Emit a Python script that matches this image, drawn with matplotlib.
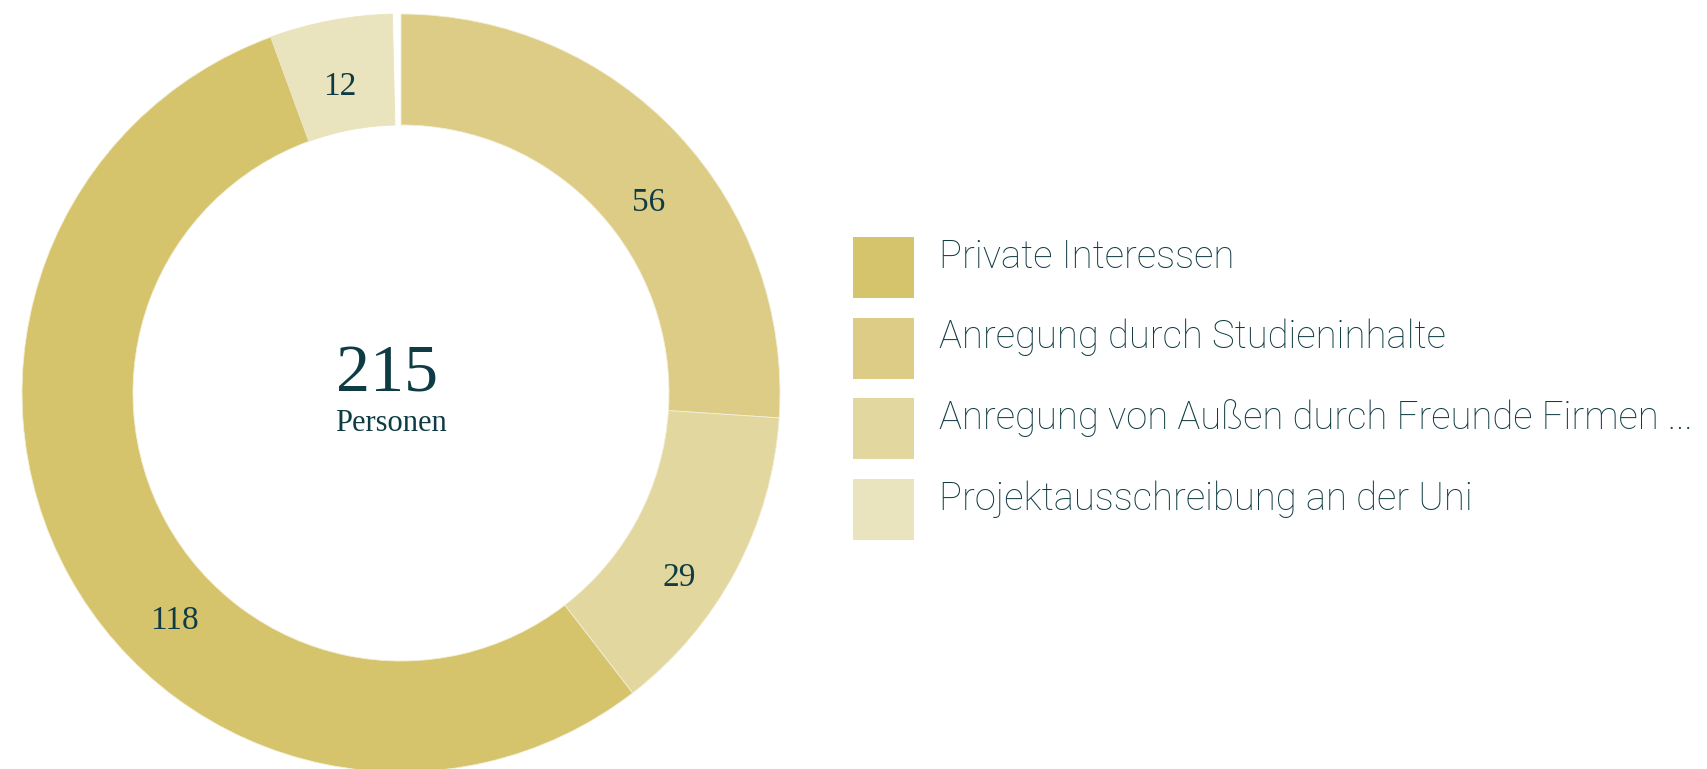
import matplotlib.pyplot as plt
import numpy as np

# data (clockwise from 12 o'clock)
categories = ["Anregung durch Studieninhalte",
              "Anregung von Außen durch Freunde Firmen ...",
              "Private Interessen",
              "Projektausschreibung an der Uni"]
values = [56, 29, 118, 12]
colors = ["#ddcc86", "#e2d79f", "#d5c46c", "#eae4be"]

legend_order = ["Private Interessen",
                "Anregung durch Studieninhalte",
                "Anregung von Außen durch Freunde Firmen ...",
                "Projektausschreibung an der Uni"]

text_col = "#0f3c44"
legend_col = "#103c44"

W, H = 1708, 769
fig = plt.figure(figsize=(W / 100, H / 100), dpi=100)
ax = fig.add_axes([0, 0, 1, 1])
ax.axis("off")

cx, cy = 401, H - 393
r_out, r_in = 379, 268

wedges, _ = ax.pie(values, colors=colors, startangle=90, counterclock=False,
                   center=(cx, cy), radius=r_out,
                   wedgeprops=dict(width=r_out - r_in, edgecolor="#f4efd8", linewidth=0.6))
ax.set_xlim(0, W)
ax.set_ylim(0, H)
ax.set_aspect("equal")

# small white gap at the top before the first slice
wedges[-1].set_theta1(wedges[-1].theta1 + 1.3)
wedges[-1].set_edgecolor(colors[-1])

# value labels (positions in pixels from top-left)
label_pos = [(649, 203), (679, 578), (174, 621), (340, 87)]
for v, (lx, ly) in zip(values, label_pos):
    ax.text(lx, H - ly, str(v), ha="center", va="center", fontsize=24,
            family="Liberation Serif", color=text_col)

total = sum(values)
ax.text(387, H - 392, str(total), ha="center", va="baseline",
        fontsize=49, family="Liberation Serif", color=text_col)
ax.text(391, H - 431, "Personen", ha="center", va="baseline", fontsize=22,
        family="Liberation Serif", color=text_col)

# legend
for i, name in enumerate(legend_order):
    top = 237 + i * 80.7
    ax.add_patch(plt.Rectangle((853, H - top - 61), 61, 61,
                               color=colors[categories.index(name)], lw=0))
    ax.text(939, H - top - 20, name, ha="left", va="center", fontsize=27.5,
            family="Roboto", fontweight="light", color=legend_col)

fig.savefig("out.png", dpi=100)
